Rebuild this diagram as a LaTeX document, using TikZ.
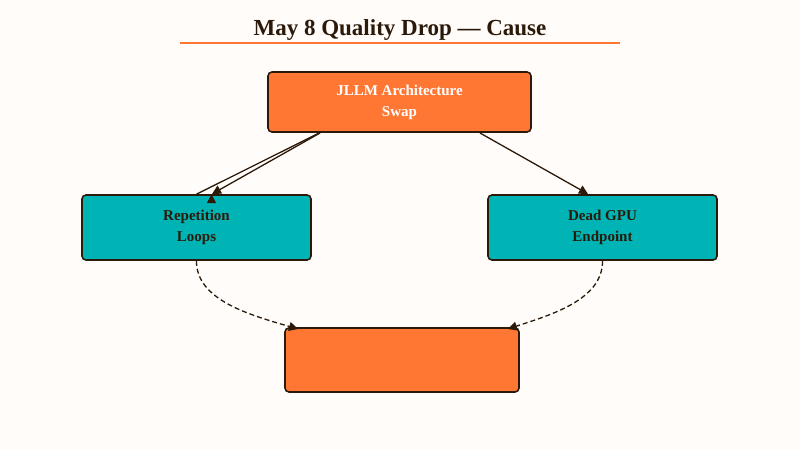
\documentclass[tikz,border=0pt]{standalone}
\usepackage{fontspec}
\setmainfont{Liberation Serif}
\usetikzlibrary{positioning,arrows.meta}
\definecolor{bgcol}{HTML}{FFFCFA}
\definecolor{orangebox}{HTML}{FF7733}
\definecolor{tealbox}{HTML}{00B3B5}
\definecolor{edgecol}{HTML}{2B1A0A}
\tikzset{
  box/.style={draw=edgecol, line width=1.6pt, rounded corners=4pt, minimum height=60pt,
    align=center, font=\fontsize{15}{21}\selectfont\bfseries},
  cause/.style={box, fill=orangebox, text=white},
  effect/.style={box, fill=tealbox, text=edgecol, minimum height=65pt},
  link/.style={-{Triangle[length=9pt,width=9pt]}, draw=edgecol, line width=1.3pt},
  weak/.style={link, dashed, dash pattern=on 5pt off 3pt}
}
\begin{document}
\begin{tikzpicture}[x=1pt,y=-1pt]
  \fill[bgcol] (0,0) rectangle (800,450);
  \useasboundingbox (0,0) rectangle (800,450);
  \node[font=\fontsize{23}{26}\selectfont\bfseries, text=edgecol] (title) at (400,30) {May 8 Quality Drop — Cause};
  \draw[orangebox, line width=1.5pt] (180,43) -- (620,43);

  \node[cause, minimum width=263pt] (swap) at (399.5,102) {JLLM Architecture\\Swap};
  \node[effect, minimum width=229pt] (loops) at (196.5,227.5) {Repetition\\Loops};
  \node[effect, minimum width=229pt] (gpu) at (602.5,227.5) {Dead GPU\\Endpoint};
  \node[cause, minimum width=234pt, minimum height=64pt] (drop) at (402,360) {};

  \draw[link] (swap.south) ++(-80,0) coordinate (s1) -- (loops.north) ++(15,0);
  \draw[link] (320,133) -- (212,194);
  \draw[link] (480,133) -- (588,194);
  \draw[weak] (loops.south) .. controls (196,300) and (250,315) .. (298,329);
  \draw[weak] (gpu.south) .. controls (603,300) and (550,315) .. (508,329);
\end{tikzpicture}
\end{document}
